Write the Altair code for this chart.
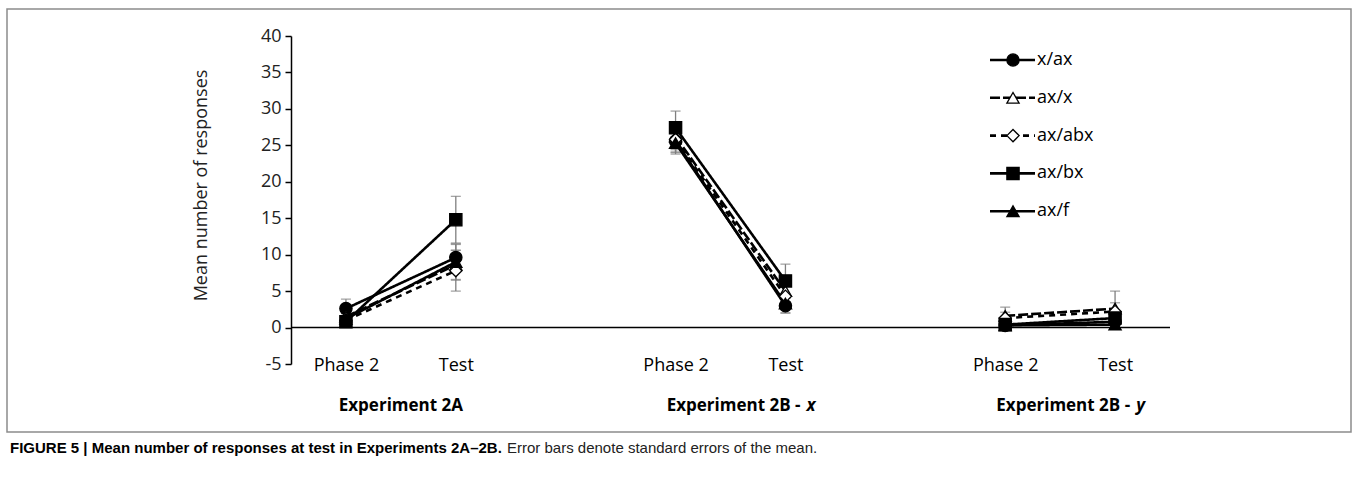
import altair as alt
import pandas as pd

# ---- data ----
series = ["x/ax", "ax/x", "ax/abx", "ax/bx", "ax/f"]
groups_main = ["Experiment 2A", "Experiment 2B -", "Experiment 2B -"]
groups_ital = ["", "x", "y"]
phases = ["Phase 2", "Test"]

# order: 2A Phase2, 2A Test, 2B-x Phase2, 2B-x Test, 2B-y Phase2, 2B-y Test
mean_x_ax = [2.6, 9.6, 25.6, 3.0, 0.3, 0.8]
mean_ax_x = [1.5, 8.6, 26.2, 5.0, 1.6, 2.6]
mean_ax_abx = [1.0, 7.8, 25.8, 4.3, 1.3, 2.2]
mean_ax_bx = [0.8, 14.8, 27.4, 6.4, 0.4, 1.3]
mean_ax_f = [1.2, 9.0, 25.3, 3.3, 0.3, 0.4]

se_x_ax = [1.3, 1.8, 1.6, 1.0, 0.3, 0.5]
se_ax_x = [0.8, 2.0, 1.8, 2.0, 1.2, 2.4]
se_ax_abx = [0.6, 2.8, 1.7, 1.6, 0.8, 1.2]
se_ax_bx = [0.5, 3.2, 2.3, 2.3, 0.4, 0.8]
se_ax_f = [0.7, 2.5, 1.5, 1.3, 0.2, 0.3]

caption_bold = "FIGURE 5 | Mean number of responses at test in Experiments 2A\u20132B."
caption_rest = "Error bars denote standard errors of the mean."

means = [mean_x_ax, mean_ax_x, mean_ax_abx, mean_ax_bx, mean_ax_f]
ses = [se_x_ax, se_ax_x, se_ax_abx, se_ax_bx, se_ax_f]

rows = []
for si, (s, m, e) in enumerate(zip(series, means, ses)):
    for i, (v, se) in enumerate(zip(m, e)):
        g, p = divmod(i, 2)
        rows.append(dict(series=s, idx=si, group=g, phase=phases[p],
                         pos=g * 3 + p + 0.5, mean=v, lo=v - se, hi=v + se))
df = pd.DataFrame(rows)

gdf = pd.DataFrame({"gpos": [g * 3 + 1 for g in range(len(groups_main))],
                    "main": groups_main, "ital": groups_ital})
leg = pd.DataFrame({"series": series, "idx": list(range(len(series)))})

# ---- styles ----
FONT = "Open Sans"
CAPFONT = "Liberation Sans"
dashes = [[1, 0], [10, 3], [6, 5], [1, 0], [1, 0]]
shapes = ["circle", "triangle-up", "diamond", "square", "triangle-up"]
fills = ["black", "white", "white", "black", "black"]
sizes = [150, 150, 170, 150, 150]

xscale = alt.Scale(domain=[0, 8], nice=False, zero=False)
yscale = alt.Scale(domain=[-5, 40], nice=False, zero=False)

label_expr = f"(datum.value % 3) < 1 ? '{phases[0]}' : '{phases[1]}'"
xaxis = alt.Axis(values=[g * 3 + p + 0.5 for g in range(3) for p in range(2)],
                 labelExpr=label_expr, title=None, domain=False, ticks=False,
                 tickSize=0, grid=False, labelFont=FONT, labelFontSize=18,
                 labelColor="black", labelBaseline="middle", labelPadding=1)
yaxis = alt.Axis(values=list(range(-5, 41, 5)), title="Mean number of responses",
                 labelExpr="'' + datum.value",
                 grid=False, labelFont=FONT, labelFontSize=18, labelColor="#222",
                 tickColor="black", tickSize=6, tickWidth=1.5, domainColor="black",
                 domainWidth=1.5, labelPadding=4, titleFont=FONT, titleFontSize=18,
                 titleFontWeight="normal", titleColor="#222", titleX=-90, titleY=149,
                 titleAngle=-90, titleBaseline="middle", titleAlign="center")


def Xf(field):
    return alt.X(f"{field}:Q", scale=xscale, axis=xaxis)


def Yf(field):
    return alt.Y(f"{field}:Q", scale=yscale, axis=yaxis)


dash_enc = alt.StrokeDash("series:N", scale=alt.Scale(domain=series, range=dashes), legend=None)
shape_enc = alt.Shape("series:N", scale=alt.Scale(domain=series, range=shapes), legend=None)
fill_enc = alt.Fill("series:N", scale=alt.Scale(domain=series, range=fills), legend=None)
size_enc = alt.Size("series:N", scale=alt.Scale(domain=series, range=sizes), legend=None)

base = alt.Chart(df)

zero_rule = alt.Chart(pd.DataFrame({"z": [0]})).mark_rule(
    color="black", strokeWidth=1.5).encode(y=Yf("z"), x=alt.value(0), x2=alt.value(879))

err = base.mark_rule(color="#7f7f7f", strokeWidth=1.3).encode(
    x=Xf("pos"), y=Yf("lo"), y2="hi")
cap_hi = base.mark_tick(orient="horizontal", color="#7f7f7f", thickness=1.3, size=10).encode(
    x=Xf("pos"), y=Yf("hi"))
cap_lo = base.mark_tick(orient="horizontal", color="#7f7f7f", thickness=1.3, size=10).encode(
    x=Xf("pos"), y=Yf("lo"))

lines = base.mark_line(color="black", strokeWidth=2.6).encode(
    x=Xf("pos"), y=Yf("mean"), strokeDash=dash_enc, detail="group:N", order="pos:Q")

points = base.mark_point(filled=True, opacity=1, strokeWidth=1.3).encode(
    x=Xf("pos"), y=Yf("mean"), shape=shape_enc, fill=fill_enc, size=size_enc,
    stroke=alt.value("black"), order="idx:Q")

# group labels
gbase = alt.Chart(gdf)
glab_center = gbase.transform_filter("datum.ital == ''").mark_text(
    font=FONT, fontSize=17, fontWeight="bold", align="center", baseline="middle",
    color="black").encode(x=Xf("gpos"), y=alt.value(370), text="main:N")
glab_main = gbase.transform_filter("datum.ital != ''").mark_text(
    font=FONT, fontSize=17, fontWeight="bold", align="right", baseline="middle",
    color="black", dx=70).encode(x=Xf("gpos"), y=alt.value(370), text="main:N")
glab_ital = gbase.transform_filter("datum.ital != ''").mark_text(
    font=FONT, fontSize=17, fontWeight="bold", fontStyle="italic", align="left",
    baseline="middle", color="black", dx=76).encode(x=Xf("gpos"), y=alt.value(370), text="ital:N")

# manual legend
lbase = alt.Chart(leg).transform_calculate(ly="24 + datum.idx * 37.8")
leg_rule = lbase.mark_rule(color="black", strokeWidth=2.6).encode(
    x=alt.value(699), x2=alt.value(744), y=alt.Y("ly:Q", scale=None), strokeDash=dash_enc)
leg_pt = lbase.mark_point(filled=True, opacity=1, strokeWidth=1.3).encode(
    x=alt.value(722), y=alt.Y("ly:Q", scale=None), shape=shape_enc, fill=fill_enc,
    size=size_enc, stroke=alt.value("black"))
leg_txt = lbase.mark_text(font=FONT, fontSize=18, align="left", baseline="middle",
                          color="black").encode(
    x=alt.value(746), y=alt.Y("ly:Q", scale=None), text="series:N")

# border and caption
one = pd.DataFrame({"a": [caption_bold], "b": [caption_rest]})
border = alt.Chart(one).mark_rect(fillOpacity=0, stroke="#8c8c8c", strokeWidth=1.5).encode(
    x=alt.value(-284), x2=alt.value(1060), y=alt.value(-27), y2=alt.value(396))
cap1 = alt.Chart(one).mark_text(font=CAPFONT, fontSize=15, fontWeight="bold",
                                align="left", baseline="middle", color="black").encode(
    x=alt.value(-281), y=alt.value(412), text="a:N")
cap2 = alt.Chart(one).mark_text(font=CAPFONT, fontSize=15,
                                align="left", baseline="middle", color="#222").encode(
    x=alt.value(216), y=alt.value(412), text="b:N")

chart = alt.layer(
    border, zero_rule, err, cap_hi, cap_lo, lines, points,
    glab_center, glab_main, glab_ital, leg_rule, leg_pt, leg_txt, cap1, cap2
).properties(
    width=879, height=328,
    background="white",
    autosize=alt.AutoSizeParams(type="none"),
    padding={"left": 291, "top": 36, "right": 188, "bottom": 124},
).configure_view(strokeWidth=0, stroke="transparent")

chart.save("out.html", embed_options={"renderer": "svg", "actions": False})
